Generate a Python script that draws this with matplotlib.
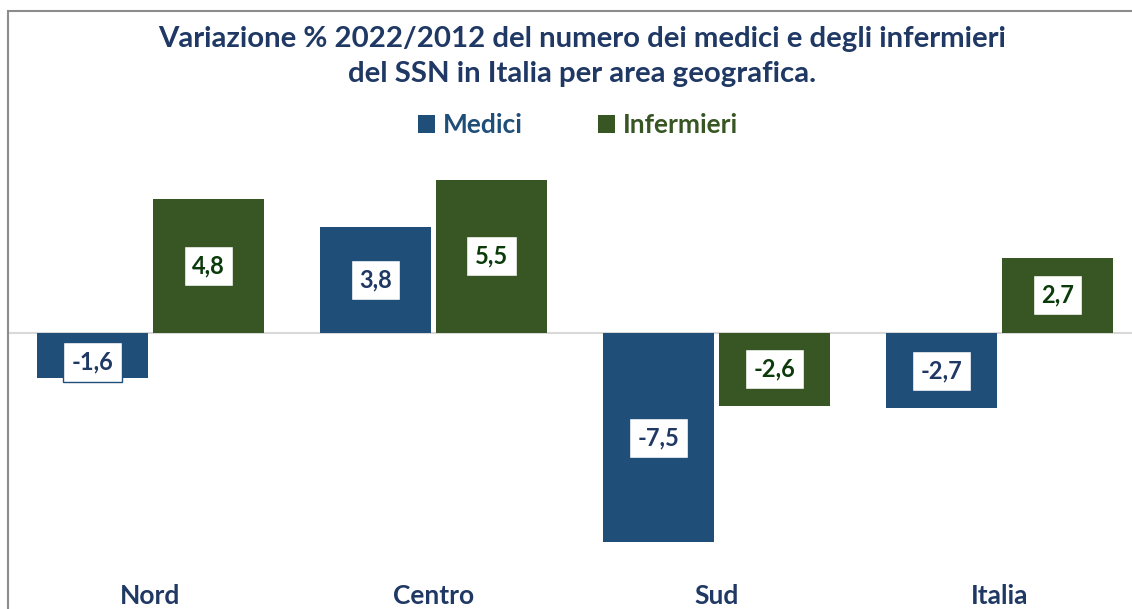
import numpy as np
import matplotlib
matplotlib.use('Agg')
import matplotlib.pyplot as plt
from matplotlib.patches import Rectangle
import matplotlib.transforms as mtransforms

# data
aree = ['Nord', 'Centro', 'Sud', 'Italia']
medici = [-1.6, 3.8, -7.5, -2.7]
infermieri = [4.8, 5.5, -2.6, 2.7]
serie = ['Medici', 'Infermieri']

# colours
blu = '#1F4E79'
verde = '#375623'
blu_testo = '#1F3864'
verde_testo = '#0B3B0B'

plt.rcParams['font.family'] = ['Lato', 'DejaVu Sans']
plt.rcParams['font.weight'] = 'bold'

W, H = 1132, 609
fig = plt.figure(figsize=(W / 100, H / 100), dpi=100)

def fx(px):
    return px / W

def fy(py):
    return 1 - py / H

# axes in pixel layout
ax_top, ax_bot = 150, 560
ax = fig.add_axes([fx(8), fy(ax_bot), 1 - fx(8), (ax_bot - ax_top) / H])
ax.axis('off')

ppu = 27.9  # pixels per unit
zero = 333
ax.set_ylim(-(ax_bot - zero) / ppu, (zero - ax_top) / ppu)
ax.set_xlim(-0.503, 3.468)

x = np.arange(len(aree))
w = 0.392
off = 0.205

ax.axhline(0, color='#D9D9D9', lw=1.5, zorder=1)
b1 = ax.bar(x - off, medici, w, color=blu, zorder=2, label=serie[0])
b2 = ax.bar(x + off, infermieri, w, color=verde, zorder=2, label=serie[1])

for xs, vals, ec, tc in [(x - off, medici, blu, blu_testo),
                         (x + off, infermieri, verde, verde_testo)]:
    for xi, v in zip(xs, vals):
        yv = v / 2
        if abs(v) < 2:
            yv = v - np.sign(v) * 0.56
        ax.text(xi, yv, '{:.1f}'.format(v).replace('.', ','), ha='center', va='center',
                fontsize=17, fontweight='bold', color=tc, zorder=4,
                bbox=dict(boxstyle='square,pad=0.36', fc='white', ec=ec, lw=1))

# category labels
tr = mtransforms.blended_transform_factory(ax.transData, fig.transFigure)
for xi, a in zip(x, aree):
    ax.text(xi, fy(596), a, transform=tr, ha='center', va='center',
            fontsize=19, fontweight='bold', color=blu_testo, clip_on=False)

# title
fig.text(fx(582), fy(39), 'Variazione % 2022/2012 del numero dei medici e degli infermieri',
         ha='center', va='center', fontsize=21.2, fontweight='bold', color=blu_testo)
fig.text(fx(582), fy(74), 'del SSN in Italia per area geografica.',
         ha='center', va='center', fontsize=21.2, fontweight='bold', color=blu_testo)

# legend
leg = fig.legend(handles=[b1, b2], labels=serie, loc='center', ncol=2,
                 bbox_to_anchor=(fx(578), fy(125)), frameon=False,
                 fontsize=19, handlelength=0.65, handleheight=0.65,
                 handletextpad=0.3, columnspacing=2.85, labelcolor=[blu, verde])

# outer frame
fig.add_artist(Rectangle((fx(8), -0.05), 1.1, fy(11) + 0.05, transform=fig.transFigure,
                         fill=False, ec='#8C8C8C', lw=1.5, clip_on=False))

fig.savefig('out.png', dpi=100, facecolor='white')
plt.close(fig)
